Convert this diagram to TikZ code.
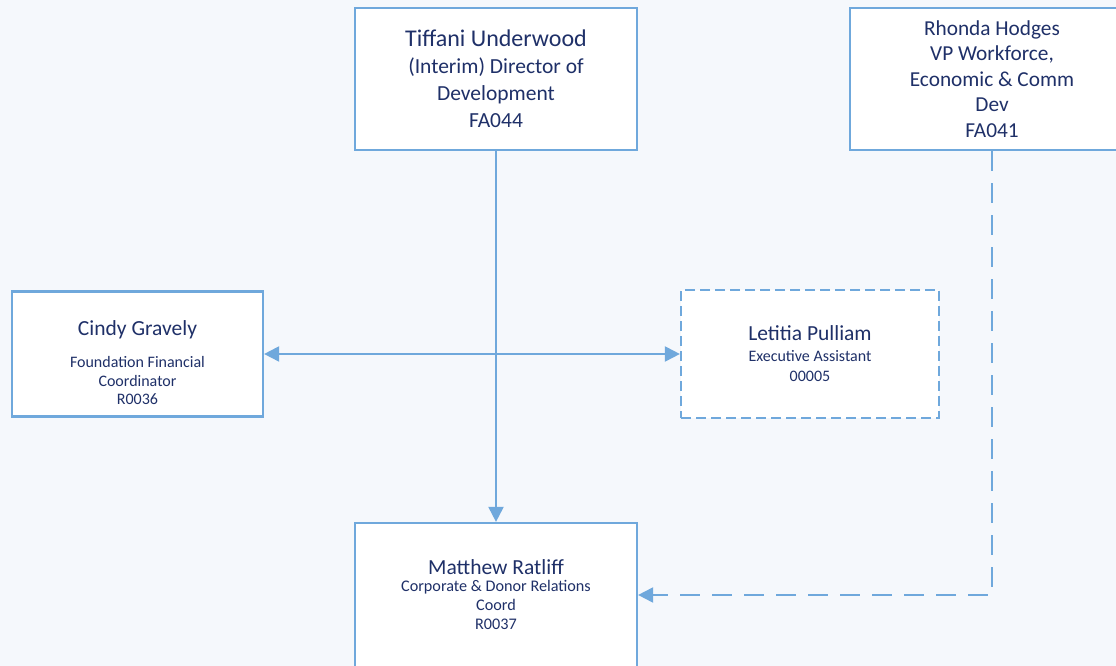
\documentclass[tikz,border=0pt]{standalone}
\usepackage{fontspec}
\setmainfont{Carlito}
\usetikzlibrary{arrows.meta}

\definecolor{orgline}{RGB}{111,168,220}
\definecolor{orgtext}{RGB}{31,48,104}
\definecolor{orgback}{RGB}{245,248,252}

\newcommand{\namesize}{\fontsize{21.5}{25}\selectfont}

\begin{document}
\begin{tikzpicture}[x=1pt, y=1pt]
			\tikzstyle{every node}=[align=center, inner sep=1pt, text=orgtext]
			\tikzstyle{post}=[draw=orgline, line width=2.2pt, fill=white]
			\tikzstyle{link}=[draw=orgline, line width=2pt, -{Triangle[length=15pt, width=15pt]}]
				\fill[orgback] (0,0) rectangle (1116,666);
				\useasboundingbox (0,0) rectangle (1116,666);

				\node[post, minimum width=282, minimum height=142, font=\fontsize{21.5}{27}\selectfont] (tiffani) at (496, 587)
					{{\fontsize{24}{27}\selectfont Tiffani Underwood} \\ (Interim) Director of \\ Development \\ FA044};
				\node[post, minimum width=284, minimum height=142, font=\fontsize{21.3}{25.5}\selectfont] (rhonda) at (992, 587)
					{Rhonda Hodges \\ VP Workforce, \\ Economic \& Comm \\ Dev \\ FA041};
				\node[post, minimum width=251, minimum height=125, font=\fontsize{16}{18.5}\selectfont] (cindy) at (137.5, 312)
					{{\namesize\rule{0pt}{32pt}Cindy Gravely} \\[14pt] Foundation Financial \\ Coordinator \\ R0036};
				\node[post, dash pattern=on 10pt off 5pt, minimum width=258, minimum height=128, font=\fontsize{16}{20}\selectfont] (letitia) at (810, 312)
					{{\namesize Letitia Pulliam} \\[1pt] Executive Assistant \\ 00005};
				\node[post, minimum width=282, minimum height=144, font=\fontsize{16.2}{19}\selectfont] (matthew) at (496, 71)
					{{\namesize Matthew Ratliff} \\[-2pt] Corporate \& Donor Relations \\ Coord \\ R0037};

				\coordinate (split) at (496, 312);

				\draw[link]  (tiffani) to (matthew);
				\draw[link]  (split) to (cindy);
				\draw[link]  (split) to (letitia);
				\draw[link, dash pattern=on 20pt off 12pt]  (rhonda.south) |- (matthew.east);
			\end{tikzpicture}
\end{document}
